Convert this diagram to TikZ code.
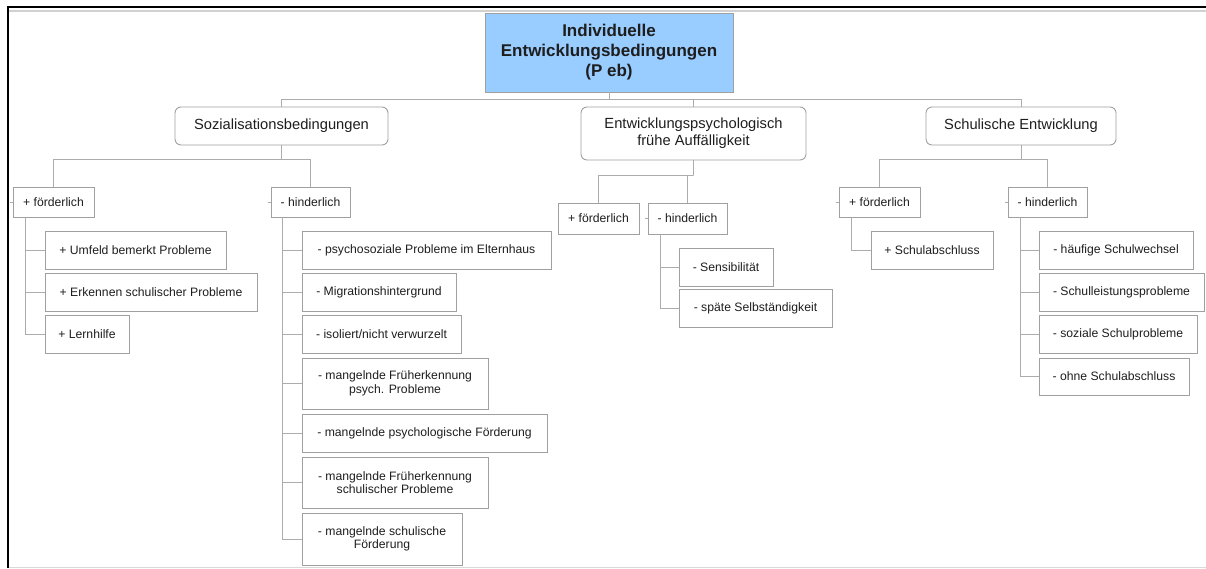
\documentclass[tikz,border=0pt]{standalone}
\usepackage{fontspec}
\setmainfont{Liberation Sans}
\usepackage{tikz}
\usetikzlibrary{calc}
\definecolor{kantengrau}{RGB}{160,160,160}
\definecolor{liniengrau}{RGB}{172,172,172}
\definecolor{kopfblau}{RGB}{153,204,255}
\definecolor{textgrau}{RGB}{30,30,30}
\tikzset{
  kopfbox/.style={draw=kantengrau, fill=kopfblau, line width=0.9pt, inner sep=0pt,
    align=center, text=textgrau, font=\fontsize{17}{20}\selectfont\bfseries},
  themabox/.style={draw=kantengrau, rounded corners=6pt, line width=0.9pt, inner sep=0pt,
    align=center, text=textgrau, font=\fontsize{14.7}{17}\selectfont},
  astbox/.style={draw=kantengrau, line width=0.9pt, inner sep=0pt, minimum height=30pt,
    align=center, text=textgrau, font=\fontsize{12.2}{13.5}\selectfont},
  blattbox/.style={astbox, minimum height=38pt},
  linie/.style={draw=liniengrau, line width=0.9pt}
}

\begin{document}
\begin{tikzpicture}[x=1pt,y=-1pt]
    \useasboundingbox (0,0) rectangle (1206,568);
    \draw[line width=2.2pt] (1206,6.9) -- (7.7,6.9) -- (7.7,568);
    \draw[black!18, line width=1.6pt] (8.8,10.8) -- (1206,10.8);
    \draw[black!15, line width=1.5pt] (8.8,567.3) -- (1206,567.3);

    \node[kopfbox, minimum width=248pt, minimum height=79pt] (kopf) at (609,52.5)
        {Individuelle\\Entwicklungsbedingungen\\(P eb)};
    \node[themabox, minimum width=213pt, minimum height=38pt] (soz) at (281.5,126) {Sozialisationsbedingungen};
    \node[themabox, minimum width=225pt, minimum height=53pt] (ent) at (693.5,133.5)
        {Entwicklungspsychologisch\\frühe Auffälligkeit};
    \node[themabox, minimum width=190pt, minimum height=38pt] (sch) at (1021,126) {Schulische Entwicklung};

    \node[astbox, minimum width=81pt] (sf) at (53.5,202) {+ förderlich};
    \node[astbox, minimum width=79pt] (sh) at (310.5,202) {- hinderlich};
    \node[astbox, minimum width=81pt, minimum height=31pt] (ef) at (598.5,218.5) {+ förderlich};
    \node[astbox, minimum width=79pt, minimum height=31pt] (eh) at (687.5,218.5) {- hinderlich};
    \node[astbox, minimum width=81pt] (rf) at (879.5,202) {+ förderlich};
    \node[astbox, minimum width=79pt] (rh) at (1047.5,202) {- hinderlich};

    \node[blattbox, minimum width=181pt] (sf1) at (135.5,250) {+ Umfeld bemerkt Probleme};
    \node[blattbox, minimum width=212pt] (sf2) at (151,292) {+ Erkennen schulischer Probleme};
    \node[blattbox, minimum width=84pt] (sf3) at (87,334) {+ Lernhilfe};

    \node[blattbox, minimum width=249pt] (sh1) at (426.5,250) {- psychosoziale Probleme im Elternhaus};
    \node[blattbox, minimum width=154pt] (sh2) at (379,292) {- Migrationshintergrund};
    \node[blattbox, minimum width=159pt] (sh3) at (381.5,334) {- isoliert/nicht verwurzelt};
    \node[blattbox, minimum width=186pt, minimum height=51pt] (sh4) at (395,383.5)
        {- mangelnde Früherkennung\\psych. Probleme};
    \node[blattbox, minimum width=245pt] (sh5) at (424.5,433) {- mangelnde psychologische Förderung};
    \node[blattbox, minimum width=186pt, minimum height=51pt] (sh6) at (395,482.5)
        {- mangelnde Früherkennung\\schulischer Probleme};
    \node[blattbox, minimum width=160pt, minimum height=52pt] (sh7) at (382,539)
        {- mangelnde schulische\\Förderung};

    \node[blattbox, minimum width=94pt] (eh1) at (726,267) {- Sensibilität};
    \node[blattbox, minimum width=153pt] (eh2) at (755.5,308) {- späte Selbständigkeit};

    \node[blattbox, minimum width=122pt] (rf1) at (932,250) {+ Schulabschluss};
    \node[blattbox, minimum width=154pt] (rh1) at (1116,250) {- häufige Schulwechsel};
    \node[blattbox, minimum width=165pt] (rh2) at (1121.5,292) {- Schulleistungsprobleme};
    \node[blattbox, minimum width=158pt] (rh3) at (1118,334) {- soziale Schulprobleme};
    \node[blattbox, minimum width=150pt, minimum height=37pt] (rh4) at (1114,376.5) {- ohne Schulabschluss};

    \draw[linie] (kopf.south) -- ++(0,7) coordinate (k0);
    \draw[linie] (soz.north) |- (k0) -| (sch.north);
    \draw[linie] (k0 -| ent.north) -- (ent.north);

    \draw[linie] (soz.south) -- ++(0,14) coordinate (k1);
    \draw[linie] (sf.north) |- (k1) -| (sh.north);
    \draw[linie] (ent.south) -- ++(0,15) coordinate (k2);
    \draw[linie] (ef.north) |- (k2) -| (eh.north);
    \draw[linie] (sch.south) -- ++(0,14) coordinate (k3);
    \draw[linie] (rf.north) |- (k3) -| (rh.north);

    \foreach \b in {sf1,sf2,sf3}
        \draw[linie] ([xshift=13pt]sf.south west) |- (\b.west);
    \foreach \b in {sh1,sh2,sh3,sh4,sh5,sh6,sh7}
        \draw[linie] ([xshift=12pt]sh.south west) |- (\b.west);
    \foreach \b in {eh1,eh2}
        \draw[linie] ([xshift=13pt]eh.south west) |- (\b.west);
    \draw[linie] ([xshift=13pt]rf.south west) |- (rf1.west);
    \foreach \b in {rh1,rh2,rh3,rh4}
        \draw[linie] ([xshift=13pt]rh.south west) |- (\b.west);

    \foreach \b in {sf,sh,eh,rf,rh}
        \draw[linie] (\b.west) -- ++(-3,0);
\end{tikzpicture}
\end{document}
